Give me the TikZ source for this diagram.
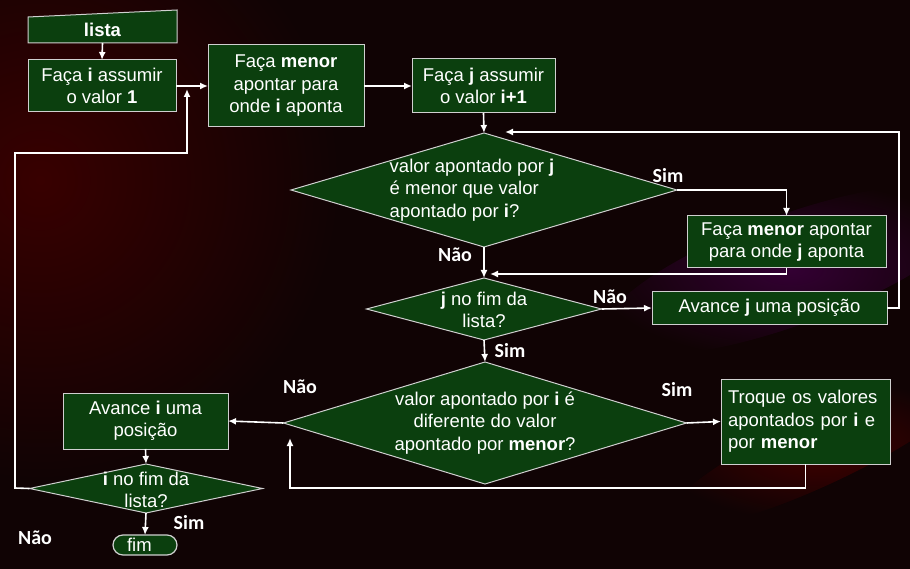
\documentclass[tikz,border=0pt]{standalone}
\usepackage{fontspec}
\setmainfont{Liberation Sans}
\newfontfamily\simnaofont{Carlito}
\usetikzlibrary{positioning}
\usetikzlibrary{shapes,arrows.meta,backgrounds,shapes.geometric,calc}
\definecolor{boxgreen}{HTML}{0B3F0E}
\definecolor{bgdark}{HTML}{100304}
\definecolor{boxline}{HTML}{D0D0D0}
\tikzset{
    %Define standard arrow tip
    >={Latex[length=8pt,width=7pt]},
    % Define arrow style
    pil/.style={
           ->,
           white,
           line width=1.6pt,}
}
\newcommand{\boxfont}{\fontsize{18.5}{22.5}\selectfont}
\newcommand{\ansfont}{\simnaofont\bfseries\fontsize{20}{20}\selectfont}

\begin{document}
\begin{tikzpicture}[x=1pt, y=-1pt, outer sep=0pt]
\tikzstyle{proc}=[draw=boxline, line width=1pt, rectangle, fill=boxgreen, text=white, font=\boxfont, align=center, inner sep=0pt]
\tikzstyle{dec}=[draw=boxline, line width=1pt, diamond, fill=boxgreen, inner sep=0pt]
\tikzstyle{dtext}=[text=white, font=\boxfont, align=center, inner sep=0pt]
\tikzstyle{ans}=[text=white, font=\ansfont, inner sep=0pt]

\useasboundingbox (0,0) rectangle (910,569);

% background
\begin{scope}[on background layer]
\clip (0,0) rectangle (910,569);
\fill[bgdark] (0,0) rectangle (910,569);
\shade[inner color=red!22!black, outer color=bgdark] (40,180) ellipse (300pt and 300pt);
\shade[inner color=violet!40!black, outer color=bgdark, rotate around={20:(790,270)}] (790,270) ellipse (200pt and 55pt);
\shade[inner color=red!25!black, outer color=bgdark, rotate around={25:(820,450)}] (820,450) ellipse (170pt and 35pt);
\end{scope}

% top row
\node[proc, fill=none, draw=none, minimum width=149pt, minimum height=26pt, font=\boxfont\bfseries] (lista) at (102.5,30) {lista};
\node[proc, minimum width=148pt, minimum height=52pt] (init) at (102,86) {Faça \textbf{i} assumir\\o valor \textbf{1}};
\node[proc, minimum width=156pt, minimum height=82pt] (menor) at (286,86) {Faça \textbf{menor}\\apontar para\\onde \textbf{i} aponta};
\node[proc, minimum width=143pt, minimum height=54pt] (initj) at (483.5,86) {Faça \textbf{j} assumir\\o valor \textbf{i+1}};

\begin{scope}[on background layer]
\filldraw[draw=boxline, line width=1pt, fill=boxgreen] (lista.south west) -- (lista.north west) -- ([yshift=7pt]lista.north east) -- (lista.south east) -- cycle;
\end{scope}

% inner loop on j
\node[dec, minimum width=386pt, minimum height=114pt] (dmenor) at (484,190) {};
\node[dtext, align=left] (dmenortxt) at (472,190) {valor apontado por \textbf{j}\\é menor que valor\\apontado por \textbf{i}?};
\node[proc, minimum width=199pt, minimum height=52pt] (trocamenor) at (786.5,242) {Faça \textbf{menor} apontar\\para onde \textbf{j} aponta};
\node[dec, minimum width=235pt, minimum height=62pt] (dfimj) at (484,309) {};
\node[dtext] (dfimjtxt) at (484,310) {\textbf{j} no fim da\\lista?};
\node[proc, minimum width=235pt, minimum height=32pt] (avancaj) at (769.5,308) {Avance \textbf{j} uma posição};

% outer part
\node[dec, minimum width=403pt, minimum height=122pt] (ddif) at (485,423) {};
\node[dtext] (ddiftxt) at (485,423) {valor apontado por \textbf{i} é\\diferente do valor\\apontado por \textbf{menor}?};
\node[proc, align=left, minimum width=169pt, minimum height=85pt, text width=155pt] (troca) at (805.5,421.5) {Troque os valores\\apontados por \textbf{i} e\\por \textbf{menor}};
\node[proc, minimum width=165pt, minimum height=56pt] (avancai) at (145.5,421) {Avance \textbf{i} uma\\posição};
\node[dec, minimum width=233pt, minimum height=49pt] (dfimi) at (146,488.5) {};
\node[dtext] (dfimitxt) at (146,490) {\textbf{i} no fim da\\lista?};
\node[proc, rounded corners=10pt, minimum width=64pt, minimum height=20pt, line width=1.2pt, text width=36pt, align=left] (fim) at (145,545) {fim};

% free ends
\coordinate (loopi) at (187,89);
\coordinate (loopj) at (505,132);
\coordinate (mergej) at (490,274);
\coordinate (backdif) at (290,438);

\path[pil] (lista.south) edge (init.north);
\path[pil] (init.east) edge (menor.west);
\path[pil] (menor.east) edge (initj.west);
\path[pil] (initj.south) edge (dmenor.north);
\draw[pil] (dmenor.east) -| (trocamenor.north);
\draw[pil] (trocamenor.south) |- (mergej);
\path[pil] (dmenor.south) edge (dfimj.north);
\path[pil] (dfimj.east) edge (avancaj.west);
\draw[pil] (avancaj.east) -- ++(12,0) |- (loopj);
\path[pil] (dfimj.south) edge (ddif.north);
\path[pil] (ddif.east) edge (troca.west);
\path[pil] (ddif.west) edge (avancai.east);
\draw[pil] (troca.south) -- ++(0,24) -| (backdif);
\path[pil] (avancai.south) edge (dfimi.north);
\path[pil] (dfimi.south) edge (fim.north);
\draw[pil] (dfimi.west) -- (15,488) |- (187,153) -- (loopi);

% answers
\node[ans] (sim1) at (668,176) {Sim};
\node[ans] (nao1) at (455,255) {Não};
\node[ans] (nao2) at (610,297) {Não};
\node[ans] (sim2) at (510,351) {Sim};
\node[ans] (sim3) at (677,390) {Sim};
\node[ans] (nao3) at (300,387) {Não};
\node[ans] (sim4) at (189,523) {Sim};
\node[ans] (nao4) at (35,538) {Não};

\end{tikzpicture}
\end{document}
